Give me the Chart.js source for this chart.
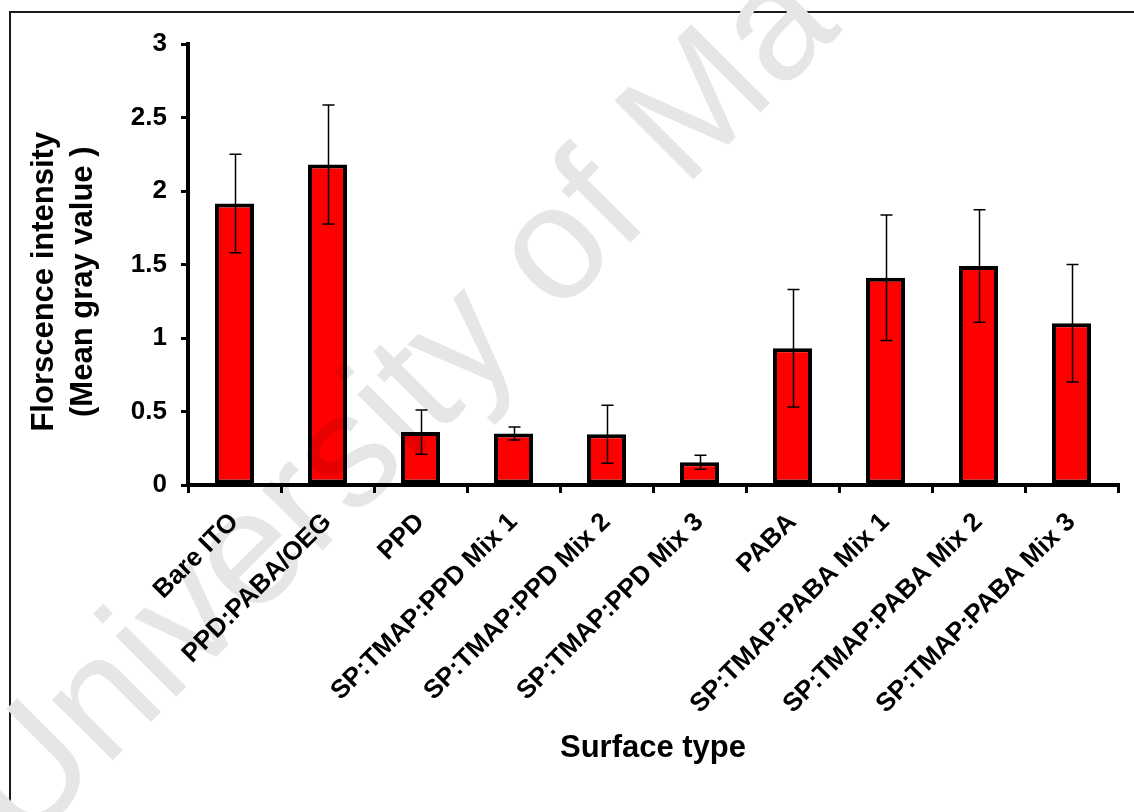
<!DOCTYPE html>
<html>
<head>
<meta charset="utf-8">
<script src="https://cdn.jsdelivr.net/npm/chart.js@4.4.1/dist/chart.umd.min.js"></script>
<style>
  html, body { margin: 0; padding: 0; background: #fff; }
  #wrap { position: relative; width: 1134px; height: 812px; overflow: hidden; }
  #frame {
    position: absolute; left: 9px; top: 11px; right: -4px; bottom: -4px;
    border-left: 2px solid #1a1a1a; border-top: 2px solid #1a1a1a;
  }
  #chart { position: absolute; left: 0; top: 0; }
</style>
</head>
<body>
<div id="wrap">
  <div id="frame"></div>
  <canvas id="chart" width="1134" height="812"></canvas>
</div>
<script>
const SURFACES = [
  'Bare ITO', 'PPD:PABA/OEG', 'PPD',
  'SP:TMAP:PPD Mix 1', 'SP:TMAP:PPD Mix 2', 'SP:TMAP:PPD Mix 3',
  'PABA', 'SP:TMAP:PABA Mix 1', 'SP:TMAP:PABA Mix 2', 'SP:TMAP:PABA Mix 3',
];
const MEAN_GRAY = [1.915, 2.18, 0.36, 0.35, 0.345, 0.155, 0.93, 1.41, 1.49, 1.10];
const STD_DEV   = [0.335, 0.405, 0.15, 0.044, 0.197, 0.048, 0.40, 0.427, 0.383, 0.40];
const Y_TICKS   = [0, 0.5, 1, 1.5, 2, 2.5, 3];

const FONT = "'Liberation Sans', Arial, sans-serif";

// whiskers drawn on top of the bars
const errorBars = {
  id: 'errorBars',
  afterDatasetsDraw(chart) {
    const { ctx, scales: { y } } = chart;
    const meta = chart.getDatasetMeta(0);
    ctx.save();
    ctx.strokeStyle = '#000';
    ctx.lineWidth = 1.5;
    meta.data.forEach((bar, i) => {
      const v = MEAN_GRAY[i], e = STD_DEV[i];
      const hi = y.getPixelForValue(v + e);
      const lo = y.getPixelForValue(v - e);
      const x = Math.round(bar.x) + 0.5;
      ctx.beginPath();
      ctx.moveTo(x, hi); ctx.lineTo(x, lo);
      ctx.moveTo(x - 6, hi); ctx.lineTo(x + 6, hi);
      ctx.moveTo(x - 6, lo); ctx.lineTo(x + 6, lo);
      ctx.stroke();
    });
    ctx.restore();
  },
};

// faint diagonal stamp over the whole figure
const stamp = {
  id: 'stamp',
  afterDraw(chart) {
    const { ctx } = chart;
    ctx.save();
    ctx.globalCompositeOperation = 'multiply';
    ctx.translate(22, 851);
    ctx.rotate(-45 * Math.PI / 180);
    ctx.font = `162px ${FONT}`;
    ctx.fillStyle = '#e6e6e6';
    ctx.fillText('University of Ma', 0, 0);
    ctx.restore();
  },
};

new Chart(document.getElementById('chart'), {
  type: 'bar',
  data: {
    labels: SURFACES,
    datasets: [{
      data: MEAN_GRAY,
      backgroundColor: '#ff0000',
      borderColor: '#000',
      borderWidth: 4,
      borderSkipped: false,
      barPercentage: 0.42,
      categoryPercentage: 1,
    }],
  },
  options: {
    responsive: false,
    animation: false,
    devicePixelRatio: 1,
    layout: { padding: { left: 9, top: 44, right: 16, bottom: 0 } },
    plugins: { legend: { display: false }, tooltip: { enabled: false } },
    scales: {
      x: {
        afterFit: s => { s.height = 327; },
        border: { color: '#000', width: 4 },
        grid: { drawOnChartArea: false, color: '#000', lineWidth: 3, tickLength: 8, offset: true },
        ticks: {
          color: '#000', minRotation: 45, maxRotation: 45, autoSkip: false, padding: 14,
          font: { family: FONT, size: 26, weight: 'bold' },
        },
        title: {
          display: true, text: 'Surface type', color: '#000', padding: { bottom: 45 },
          font: { family: FONT, size: 31, weight: 'bold' },
        },
      },
      y: {
        min: 0, max: 3,
        afterFit: s => { s.width = 179; },
        afterBuildTicks: s => { s.ticks = Y_TICKS.map(v => ({ value: v })); },
        border: { color: '#000', width: 4 },
        grid: { drawOnChartArea: false, color: '#000', lineWidth: 3, tickLength: 7 },
        ticks: {
          color: '#000', padding: 14,
          callback: v => String(v),
          font: { family: FONT, size: 26, weight: 'bold' },
        },
        title: {
          display: true,
          // trailing spaces nudge the rotated lines down toward the axis middle
          text: ['Florscence intensity    ', '(Mean gray value )    '],
          color: '#000',
          padding: { top: 16 },
          font: { family: FONT, size: 31, weight: 'bold', lineHeight: 1.25 },
        },
      },
    },
  },
  plugins: [errorBars, stamp],
});
</script>
</body>
</html>
